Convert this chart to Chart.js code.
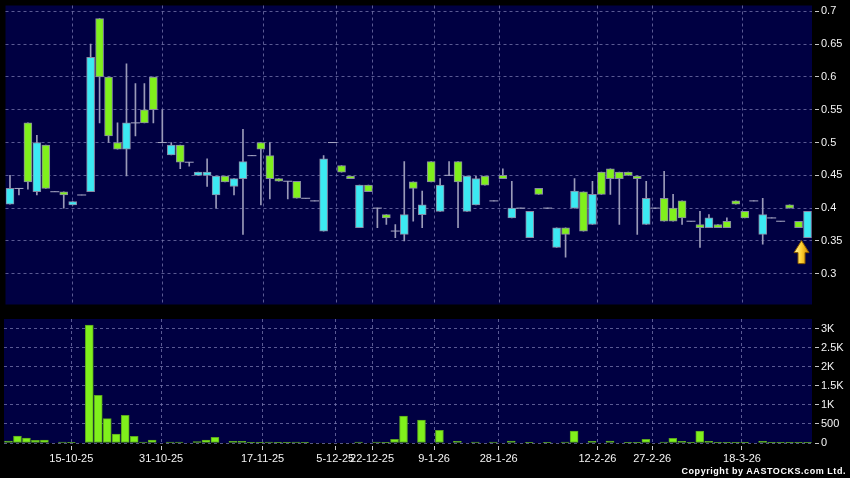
<!DOCTYPE html>
<html>
<head>
<meta charset="utf-8">
<script src="https://cdn.jsdelivr.net/npm/chart.js@4.4.1/dist/chart.umd.min.js"></script>
<style>
    body { margin: 0; background: #000; width: 850px; height: 478px; overflow: hidden; position: relative; }
    #priceBox { position: absolute; left: 0; top: 0; width: 850px; height: 310px; }
    #volBox { position: absolute; left: 0; top: 310px; width: 850px; height: 168px; }
    #copy { position: absolute; right: 4px; top: 466px; color: #fff; font: bold 9px "Liberation Sans", Arial, sans-serif; letter-spacing: 0.55px; }
</style>
</head>
<body>
<div id="priceBox"><canvas id="priceChart"></canvas></div>
<div id="volBox"><canvas id="volChart"></canvas></div>
<div id="copy">Copyright by AASTOCKS.com Ltd.</div>
<script>
// 일봉 데이터
const opens = [
    0.406, 0.43, 0.53, 0.425, 0.496, 0.425, 0.425, 0.405, 0.42, 0.425,
    0.689, 0.60, 0.50, 0.49, 0.53, 0.55, 0.60, 0.50, 0.481, 0.496,
    0.47, 0.45, 0.45, 0.42, 0.449, 0.433, 0.445, 0.48, 0.50, 0.48,
    0.445, 0.441, 0.441, 0.415, 0.411, 0.365, 0.50, 0.465, 0.449, 0.37,
    0.435, 0.40, 0.39, 0.365, 0.36, 0.44, 0.39, 0.471, 0.395, 0.45,
    0.471, 0.395, 0.405, 0.449, 0.411, 0.45, 0.385, 0.40, 0.355, 0.43,
    0.40, 0.34, 0.37, 0.40, 0.425, 0.375, 0.455, 0.46, 0.455, 0.455,
    0.449, 0.375, 0.40, 0.415, 0.40, 0.411, 0.38, 0.375, 0.37, 0.375,
    0.38, 0.411, 0.395, 0.411, 0.36, 0.385, 0.38, 0.405, 0.38, 0.355
];
const highs = [
    0.45, 0.43, 0.53, 0.511, 0.496, 0.425, 0.425, 0.41, 0.42, 0.65,
    0.689, 0.60, 0.53, 0.62, 0.59, 0.59, 0.60, 0.55, 0.50, 0.496,
    0.47, 0.455, 0.475, 0.449, 0.449, 0.445, 0.52, 0.48, 0.50, 0.50,
    0.445, 0.441, 0.441, 0.415, 0.411, 0.48, 0.50, 0.465, 0.449, 0.435,
    0.435, 0.40, 0.39, 0.375, 0.471, 0.44, 0.426, 0.471, 0.445, 0.471,
    0.471, 0.449, 0.449, 0.449, 0.411, 0.46, 0.441, 0.40, 0.395, 0.43,
    0.40, 0.37, 0.37, 0.445, 0.425, 0.441, 0.455, 0.46, 0.455, 0.455,
    0.449, 0.441, 0.40, 0.456, 0.421, 0.411, 0.38, 0.395, 0.39, 0.375,
    0.385, 0.411, 0.395, 0.411, 0.415, 0.385, 0.38, 0.405, 0.38, 0.395
];
const lows = [
    0.406, 0.42, 0.429, 0.42, 0.43, 0.425, 0.40, 0.405, 0.42, 0.425,
    0.53, 0.50, 0.49, 0.449, 0.51, 0.53, 0.53, 0.50, 0.481, 0.46,
    0.464, 0.45, 0.433, 0.40, 0.44, 0.42, 0.36, 0.48, 0.405, 0.414,
    0.441, 0.414, 0.415, 0.415, 0.411, 0.365, 0.50, 0.455, 0.445, 0.37,
    0.425, 0.37, 0.375, 0.355, 0.35, 0.38, 0.37, 0.44, 0.395, 0.45,
    0.37, 0.395, 0.405, 0.435, 0.411, 0.445, 0.385, 0.40, 0.355, 0.421,
    0.40, 0.34, 0.325, 0.40, 0.365, 0.375, 0.421, 0.421, 0.375, 0.45,
    0.36, 0.375, 0.40, 0.38, 0.38, 0.375, 0.38, 0.34, 0.37, 0.37,
    0.37, 0.406, 0.385, 0.411, 0.345, 0.385, 0.38, 0.40, 0.37, 0.355
];
const closes = [
    0.43, 0.43, 0.44, 0.50, 0.43, 0.425, 0.42, 0.41, 0.42, 0.63,
    0.60, 0.51, 0.49, 0.53, 0.53, 0.53, 0.55, 0.50, 0.496, 0.47,
    0.47, 0.455, 0.455, 0.449, 0.44, 0.445, 0.471, 0.48, 0.49, 0.445,
    0.441, 0.441, 0.415, 0.415, 0.411, 0.475, 0.50, 0.455, 0.445, 0.435,
    0.425, 0.40, 0.385, 0.365, 0.39, 0.43, 0.405, 0.44, 0.435, 0.45,
    0.44, 0.449, 0.445, 0.435, 0.411, 0.445, 0.40, 0.40, 0.395, 0.421,
    0.40, 0.37, 0.36, 0.426, 0.365, 0.421, 0.421, 0.445, 0.445, 0.45,
    0.445, 0.415, 0.40, 0.38, 0.38, 0.385, 0.38, 0.37, 0.385, 0.37,
    0.37, 0.406, 0.385, 0.411, 0.39, 0.385, 0.38, 0.40, 0.37, 0.395
];
const volumes = [
    53, 184, 132, 70, 79, 0, 26, 9, 0, 3105,
    1254, 640, 237, 728, 175, 26, 79, 0, 26, 26,
    0, 35, 79, 149, 0, 44, 44, 9, 18, 26,
    9, 9, 26, 18, 0, 0, 0, 0, 0, 26,
    0, 26, 9, 96, 710, 0, 605, 0, 333, 0,
    44, 0, 26, 0, 26, 0, 53, 0, 5, 0,
    5, 0, 26, 316, 0, 44, 0, 53, 0, 5,
    9, 96, 0, 26, 123, 44, 18, 316, 44, 5,
    3, 3, 3, 0, 44, 5, 5, 3, 3, 3
];

// 축 눈금
const dateTickPos = [7, 17, 28.3, 36.4, 40.5, 47.4, 54.6, 65.6, 71.7, 81.7];
const dateTickText = ['15-10-25', '31-10-25', '17-11-25', '5-12-25', '22-12-25', '9-1-26', '28-1-26', '12-2-26', '27-2-26', '18-3-26'];
const priceTicks = [0.3, 0.35, 0.4, 0.45, 0.5, 0.55, 0.6, 0.65, 0.7];
const volTicks = [0, 500, 1000, 1500, 2000, 2500, 3000];

const UP_COLOR = '#3ce9f2';
const DOWN_COLOR = '#80f01c';
const GRID_COLOR = 'rgba(120, 120, 175, 0.75)';
const FONT = { family: '"Liberation Sans", Arial, sans-serif', size: 11 };

const wickData = [];
const bodyData = [];
const dojiData = [];
closes.forEach((c, i) => {
    wickData.push({ x: i, y: [lows[i], highs[i]] });
    if (c === opens[i]) {
        dojiData.push({ x: i, y: c });
    } else {
        bodyData.push({ x: i, y: [Math.min(opens[i], c), Math.max(opens[i], c)] });
    }
});
const volData = volumes.map((v, i) => ({ x: i, y: v }));

/**
 * 플롯 영역 배경 (남색)
 */
const panelBg = {
    id: 'panelBg',
    beforeDraw(chart) {
        const { ctx, chartArea: a } = chart;
        ctx.save();
        ctx.fillStyle = '#000042';
        ctx.fillRect(a.left, a.top, a.right - a.left, a.bottom - a.top);
        ctx.restore();
    },
};

/**
 * 마지막 봉 아래 화살표
 */
const lastArrow = {
    id: 'lastArrow',
    afterDatasetsDraw(chart) {
        const i = closes.length - 1;
        const x = chart.scales.x.getPixelForValue(i) - 6;
        const y = chart.scales.y.getPixelForValue(lows[i]) + 3;
        const ctx = chart.ctx;
        ctx.save();
        const g = ctx.createLinearGradient(x - 7, 0, x + 7, 0);
        g.addColorStop(0, '#fff4a0');
        g.addColorStop(0.5, '#ffd030');
        g.addColorStop(1, '#d08a00');
        ctx.beginPath();
        ctx.moveTo(x, y);
        ctx.lineTo(x + 7.5, y + 12);
        ctx.lineTo(x + 3.5, y + 12);
        ctx.lineTo(x + 3.5, y + 23);
        ctx.lineTo(x - 3.5, y + 23);
        ctx.lineTo(x - 3.5, y + 12);
        ctx.lineTo(x - 7.5, y + 12);
        ctx.closePath();
        ctx.fillStyle = g;
        ctx.fill();
        ctx.strokeStyle = '#8a5a00';
        ctx.lineWidth = 1;
        ctx.stroke();
        ctx.restore();
    },
};

function dateAxis(showLabels) {
    return {
        type: 'linear',
        bounds: 'data',
        min: -0.5,
        max: 89.5,
        offset: false,
        afterBuildTicks: (a) => { a.ticks = dateTickPos.map((v) => ({ value: v })); },
        afterFit: (s) => {
            s.height = showLabels ? 35 : 2;
            s.paddingLeft = 0;
            s.paddingRight = 0;
        },
        ticks: {
            display: showLabels,
            autoSkip: false,
            maxRotation: 0,
            color: '#f4f4f4',
            font: FONT,
            padding: 2,
            callback: (v, idx) => dateTickText[idx],
        },
        grid: {
            color: GRID_COLOR,
            offset: false,
            drawTicks: showLabels,
            tickLength: 7,
            tickColor: '#c8c8c8',
            tickBorderDash: [0, 3, 4],
        },
        border: { display: false, dash: [3, 3] },
    };
}

function valueAxis(min, max, ticks, fmt) {
    return {
        position: 'right',
        bounds: 'data',
        min: min,
        max: max,
        afterBuildTicks: (a) => { a.ticks = ticks.map((v) => ({ value: v })); },
        afterFit: (s) => {
            s.width = 38;
            s.paddingTop = 0;
            s.paddingBottom = 0;
        },
        ticks: {
            color: '#f4f4f4',
            font: FONT,
            padding: 2,
            callback: fmt,
        },
        grid: {
            color: GRID_COLOR,
            tickLength: 7,
            tickColor: '#c8c8c8',
            tickBorderDash: [0, 3, 4],
        },
        border: { display: false, dash: [3, 3] },
    };
}

const common = {
    responsive: true,
    maintainAspectRatio: false,
    animation: false,
    devicePixelRatio: 1,
    plugins: { legend: { display: false }, tooltip: { enabled: false } },
};

new Chart(document.getElementById('priceChart'), {
    type: 'bar',
    data: {
        datasets: [
            {
                type: 'bar',
                data: wickData,
                backgroundColor: '#9a9ab8',
                barThickness: 1,
                grouped: false,
                order: 3,
            },
            {
                type: 'scatter',
                data: dojiData,
                pointStyle: 'line',
                pointRadius: 4.5,
                borderColor: '#a8a8c4',
                borderWidth: 1,
                order: 2,
            },
            {
                type: 'bar',
                data: bodyData,
                backgroundColor: (ctx) => {
                    const i = ctx.raw ? ctx.raw.x : 0;
                    return closes[i] > opens[i] ? UP_COLOR : DOWN_COLOR;
                },
                borderColor: '#8888a4',
                borderWidth: 1,
                borderSkipped: false,
                barThickness: 8,
                grouped: false,
                order: 1,
            },
        ],
    },
    options: {
        ...common,
        layout: { padding: { left: 4, top: 5, right: 0, bottom: 0 } },
        scales: {
            x: dateAxis(false),
            y: valueAxis(0.253, 0.709, priceTicks, (v) => String(Math.round(v * 100) / 100)),
        },
    },
    plugins: [panelBg, lastArrow],
});

new Chart(document.getElementById('volChart'), {
    type: 'bar',
    data: {
        datasets: [
            {
                data: volData,
                backgroundColor: '#80f01c',
                borderColor: '#5aa41e',
                borderWidth: 1,
                borderSkipped: false,
                barThickness: 8,
            },
        ],
    },
    options: {
        ...common,
        layout: { padding: { left: 4, top: 9, right: 0, bottom: 0 } },
        scales: {
            x: dateAxis(true),
            y: valueAxis(0, 3263, volTicks, (v) => (v >= 1000 ? v / 1000 + 'K' : String(v))),
        },
    },
    plugins: [panelBg],
});
</script>
</body>
</html>
